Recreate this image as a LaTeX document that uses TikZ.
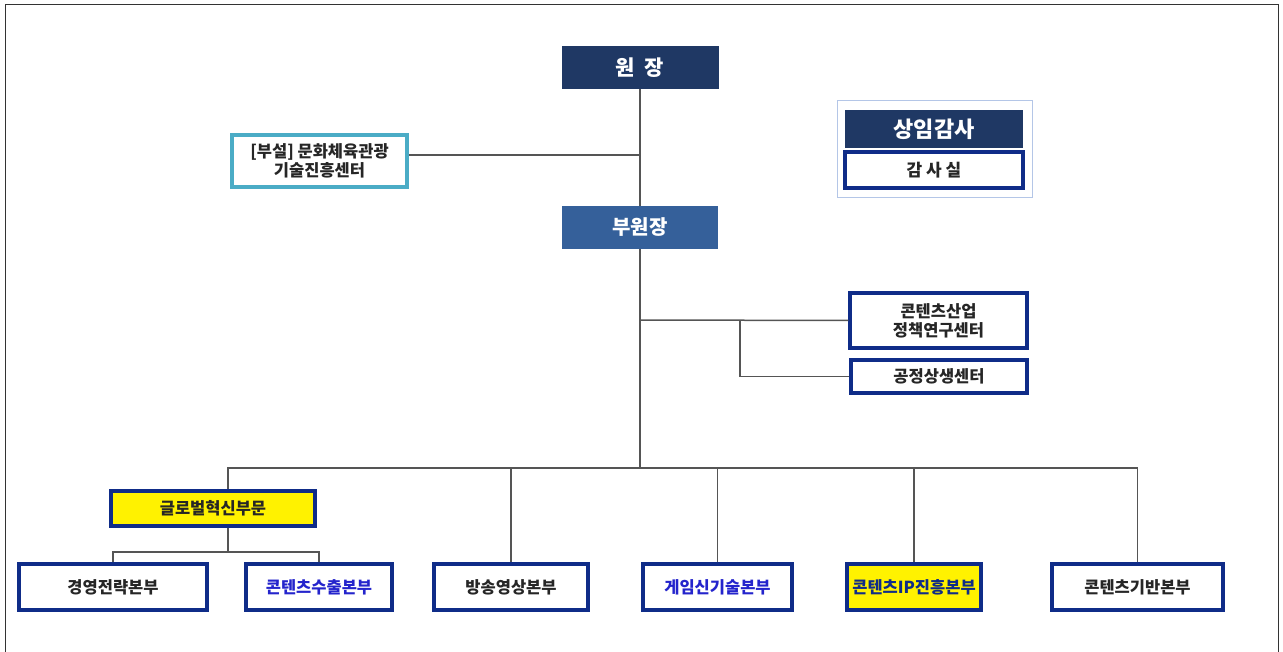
\documentclass[tikz,border=0pt]{standalone}
\usepackage{fontspec}
\setmainfont{Noto Sans CJK KR}
\definecolor{headnavy}{HTML}{1F3864}
\definecolor{vicenavy}{HTML}{35609A}
\definecolor{boxnavy}{HTML}{0F2C88}
\definecolor{annexteal}{HTML}{4BACC6}
\definecolor{auditgray}{HTML}{B4C6E7}
\definecolor{textblue}{HTML}{2424CC}
\definecolor{linegray}{HTML}{555555}

\begin{document}
\begin{tikzpicture}[x = 1pt, y = -1pt,
  headbox/.style = {fill = headnavy, text = white, font = \bfseries\fontsize{21}{24}\selectfont, inner sep = 0},
  unitbox/.style = {draw = boxnavy, line width = 3.5pt, fill = white, text = black!85, font = \bfseries\fontsize{16.5}{19}\selectfont, align = center, inner sep = 0},
  link/.style = {draw = linegray, line width = 1.5pt}]

\useasboundingbox (0, 0) rectangle (1283, 652);
\draw[line width = 1pt, black!80] (5, 5) rectangle (1278, 660);

\node[headbox, minimum width = 157, minimum height = 43] (director) at (640, 67.5) {원\ \ 장};
\node[headbox, fill = vicenavy, minimum width = 156, minimum height = 43, font = \bfseries\fontsize{20}{24}\selectfont] (vice) at (640, 227.5) {부원장};

\node[unitbox, draw = annexteal, minimum width = 175, minimum height = 52] (annex) at (319.5, 161) {[부설] 문화체육관광\\기술진흥센터};

% audit group
\draw[auditgray, line width = 1pt] (837, 101) rectangle (1032, 198);
\node[headbox, minimum width = 178, minimum height = 38, font = \bfseries\fontsize{22}{24}\selectfont] (auditor) at (934, 129) {상임감사};
\node[unitbox, minimum width = 178, minimum height = 36, font = \bfseries\fontsize{17}{19}\selectfont] (auditoffice) at (934, 170) {감\ 사\ 실};

\node[unitbox, minimum width = 177, minimum height = 55] (policy) at (938.5, 320.5) {콘텐츠산업\\정책연구센터};
\node[unitbox, minimum width = 176, minimum height = 33] (fair) at (939, 376.5) {공정상생센터};

\node[unitbox, fill = yellow, minimum width = 204, minimum height = 35] (global) at (213, 508.5) {글로벌혁신부문};

\node[unitbox, minimum width = 188, minimum height = 46] (mgmt) at (113, 587) {경영전략본부};
\node[unitbox, text = textblue, minimum width = 146, minimum height = 46] (export) at (319, 587) {콘텐츠수출본부};
\node[unitbox, minimum width = 154, minimum height = 46] (broadcast) at (511, 587) {방송영상본부};
\node[unitbox, text = textblue, minimum width = 149, minimum height = 46] (game) at (717.5, 587) {게임신기술본부};
\node[unitbox, fill = yellow, text = boxnavy, minimum width = 134, minimum height = 46] (ip) at (914, 587) {콘텐츠IP진흥본부};
\node[unitbox, minimum width = 171, minimum height = 46] (base) at (1137.5, 587) {콘텐츠기반본부};

\coordinate (annexjoin) at (640, 155);
\coordinate (policyjoin) at (640, 320);
\coordinate (fairjoin) at (740, 320);
\coordinate (bus) at (640, 468);
\coordinate (globaljoin) at (228, 552);

\draw[link] (director) -- (vice);
\draw[link] (annex.east |- annexjoin) -- (annexjoin);
\draw[link] (vice) -- (bus);
\draw[link] (policyjoin) -- (policy.west);
\draw[link] (fairjoin) |- (fair.west);

\draw[link] (bus) -| ([xshift = 15pt]global.north);
\draw[link] (bus) -| (base.north);
\foreach \unit in {broadcast, game, ip}
  \draw[link] (\unit.north |- bus) -- (\unit.north);

\draw[link] ([xshift = 15pt]global.south) -- (globaljoin);
\draw[link] (mgmt.north) |- (globaljoin) -| (export.north);
\end{tikzpicture}
\end{document}
